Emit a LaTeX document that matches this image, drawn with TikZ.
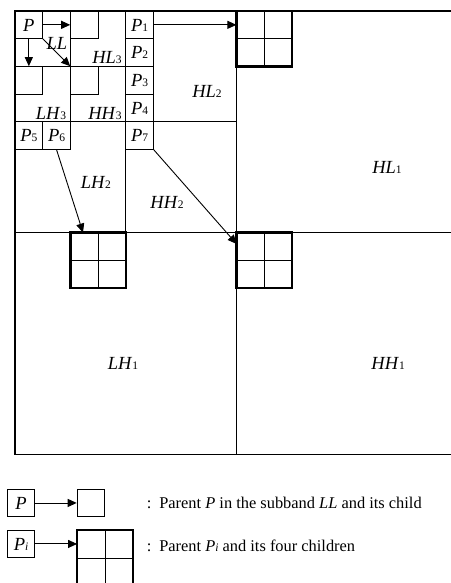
\documentclass[tikz,border=0pt]{standalone}
\usepackage{fontspec}
\setmainfont{Liberation Serif}
\usetikzlibrary{arrows.meta}
\newcommand\dg[1]{{\fontsize{11.5}{11.5}\selectfont #1}}
\begin{document}
\begin{tikzpicture}[x=27.7pt,y=-27.7pt,
  ln/.style={line width=0.9pt},
  frame/.style={line width=1.3pt},
  thickblk/.style={line width=2.5pt},
  arr/.style={line width=0.9pt,-{Triangle[length=9pt,width=8pt]}},
  cell/.style={minimum size=27.7pt,inner sep=0pt},
  blk/.style={minimum size=55.4pt,inner sep=0pt},
  lbl/.style={inner sep=0pt,text height=12.5pt,text depth=0pt,font=\fontsize{18.5}{18.5}\selectfont},
  leg/.style={inner sep=0pt,text height=11pt,text depth=0pt,font=\fontsize{16.4}{16.4}\selectfont},
  ]
\useasboundingbox (-0.5415,-0.397) rectangle (15.740,20.650);
% frame and subband dividers
\draw[frame] (0,0) rectangle (16,16);
\draw[ln] (8,0) -- (8,16);
\draw[ln] (0,8) -- (16,8);
\draw[ln] (4,0) -- (4,8);
\draw[ln] (0,4) -- (8,4);
\draw[ln] (2,0) -- (2,4);
\draw[ln] (0,2) -- (4,2);
% top-left cells of level-3 subbands
\foreach \a/\b in {0/0,2/0,0/2,2/2}
  \draw[ln] (\a+1,\b) -- (\a+1,\b+1) -- (\a,\b+1);
% P1..P4 column
\draw[ln] (5,0) -- (5,4);
\draw[ln] (4,1) -- (5,1);
\draw[ln] (4,3) -- (5,3);
\draw[ln] (4,2) -- (5,2);
% P5, P6, P7
\draw[ln] (0,5) -- (2,5) -- (2,4);
\draw[ln] (1,4) -- (1,5);
\draw[ln] (4,5) -- (5,5) -- (5,4);
% thick child blocks
\foreach \a/\b in {8/0,2/8,8/8}{
  \draw[thickblk] (\a,\b) rectangle (\a+2,\b+2);
  \draw[ln] (\a+1,\b) -- (\a+1,\b+2);
  \draw[ln] (\a,\b+1) -- (\a+2,\b+1);
}
% cell nodes
\node[cell,lbl] (P) at (0.5,0.5) {\textit{P}};
\node[cell] (c1) at (2.5,0.5) {};
\node[cell] (c2) at (0.5,2.5) {};
\node[cell] (c3) at (2.5,2.5) {};
\node[cell,lbl] (p1) at (4.5,0.5) {\textit{P}\dg{1}};
\node[cell,lbl] (p2) at (4.5,1.5) {\textit{P}\dg{2}};
\node[cell,lbl] (p3) at (4.5,2.5) {\textit{P}\dg{3}};
\node[cell,lbl] (p4) at (4.5,3.5) {\textit{P}\dg{4}};
\node[cell,lbl] (p5) at (0.5,4.5) {\textit{P}\dg{5}};
\node[cell,lbl] (p6) at (1.5,4.5) {\textit{P}\dg{6}};
\node[cell,lbl] (p7) at (4.5,4.5) {\textit{P}\dg{7}};
\node[blk] (b1) at (9,1) {};
\node[blk] (b2) at (3,9) {};
\node[blk] (b3) at (9,9) {};
\coordinate (t6) at (2.455,8);
\coordinate (t7) at (8,8.41);
% arrows
\draw[arr] (P.east) -- (c1.west);
\draw[arr] (P.south) -- (c2.north);
\draw[arr] (P.south east) -- (c3.north west);
\draw[arr] (p1.east) -- (p1.east -| b1.west);
\draw[arr] (p6.south) -- (t6);
\draw[arr] (p7.south east) -- (t7);
% subband labels
\node[lbl] (LL) at (1.516,1.155) {\textit{LL}};
\node[lbl] (HL3) at (3.32,1.66) {\textit{HL}\dg{3}};
\node[lbl] (LH3) at (1.30,3.68) {\textit{LH}\dg{3}};
\node[lbl] (HH3) at (3.25,3.68) {\textit{HH}\dg{3}};
\node[lbl] (HL2) at (6.93,2.89) {\textit{HL}\dg{2}};
\node[lbl] (LH2) at (2.92,6.17) {\textit{LH}\dg{2}};
\node[lbl] (HH2) at (5.49,6.90) {\textit{HH}\dg{2}};
\node[lbl] (HL1) at (13.43,5.63) {\textit{HL}\dg{1}};
\node[lbl] (LH1) at (3.90,12.71) {\textit{LH}\dg{1}};
\node[lbl] (HH1) at (13.47,12.71) {\textit{HH}\dg{1}};
% legend
\node[cell,lbl,draw,ln] (lp) at (0.217,17.76) {\textit{P}};
\node[cell,draw,ln] (lc) at (2.744,17.76) {};
\draw[arr] (lp.east) -- (lc.west);
\node[cell,lbl,draw,ln] (lpi) at (0.217,19.24) {\textit{P\dg{i}}};
\node[blk] (lb) at (3.249,19.747) {};
\draw[thickblk] (lb.north west) rectangle (lb.south east);
\draw[ln] (lb.north) -- (lb.south);
\draw[ln] (lb.west) -- (lb.east);
\draw[arr] (lpi.east) -- (lpi.east -| lb.west);
\node[leg,anchor=west] (t1) at (4.75,17.76) {:\hspace{8pt}Parent \textit{P} in the subband \textit{LL} and its child};
\node[leg,anchor=west] (t2) at (4.75,19.30) {:\hspace{8pt}Parent \textit{P\dg{i}} and its four children};
\end{tikzpicture}
\end{document}
